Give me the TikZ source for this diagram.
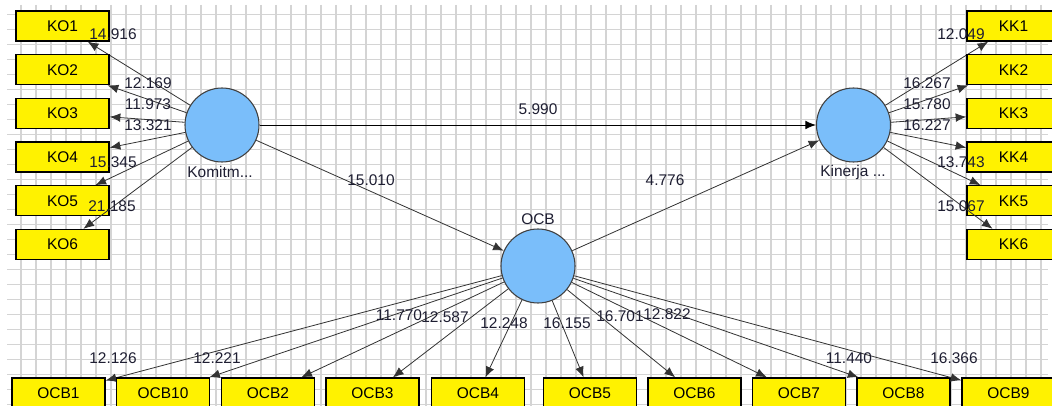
\documentclass[tikz,border=0pt]{standalone}
\usepackage{fontspec}
\setmainfont{Liberation Sans}
\usepackage{tikz}
\usetikzlibrary{arrows.meta}
\definecolor{lvblue}{RGB}{122,190,250}
\definecolor{gridgray}{RGB}{212,212,212}
\definecolor{tvtext}{RGB}{30,30,50}

\begin{document}
\begin{tikzpicture}[x=0.75pt,y=-0.75pt,
    >={Latex[length=8pt,width=6.5pt]},
    every node/.style={font=\fontsize{11.6pt}{13pt}\selectfont,text=tvtext},
    latent/.style={circle,draw=black!75,fill=lvblue,line width=0.8pt,minimum size=55.5pt,inner sep=0pt},
    indicator/.style={rectangle,draw=black,fill=yellow,line width=1pt,minimum width=69.75pt,minimum height=22.5pt,inner sep=0pt,text=black},
    link/.style={->,black!80,line width=0.6pt},
    tval/.style={inner sep=0pt},
    gridline/.style={gridgray,line width=1.3pt}]
    \clip (0,0) rectangle (1052,406);
    \fill[white] (0,0) rectangle (1052,406);

    % background grid
    \foreach \gx in {0,...,68}
        \draw[gridline] (20.7+15*\gx,5)--(20.7+15*\gx,406);
    \foreach \gy in {0,...,26}
        \draw[gridline] (7,14.5+15*\gy)--(1048,14.5+15*\gy);

    % latent variables
    \node[latent] (lvkom) at (222,125) {};
    \node[latent] (lvkin) at (853.5,125) {};
    \node[latent] (lvocb) at (538,266) {};
    \node (komlbl) at (220,172) {Komitm...};
    \node (kinlbl) at (853,173) {Kinerja ...};
    \node (ocblbl) at (538,219) {OCB};

    % indicators
    \foreach \i/\y in {1/26,2/69.7,3/113.4,4/157.1,5/200.8,6/244.5}{
        \node[indicator] (ko\i) at (62.5,\y) {KO\i};
        \node[indicator] (kk\i) at (1013.5,\y) {KK\i};
        \draw[link] (lvkom)--(ko\i);
        \draw[link] (lvkin)--(kk\i);
    }
    \foreach \n/\x in {1/58.5,10/163,2/268,3/372.5,4/478,5/590,6/694.5,7/799,8/903.5,9/1008.5}{
        \node[indicator] (ocb\n) at (\x,393) {OCB\n};
        \draw[link] (lvocb)--(ocb\n);
    }

    % inner model
    \draw[link,black,line width=0.7pt] (lvkom)--(lvkin);
    \draw[link] (lvkom)--(lvocb);
    \draw[link] (lvocb)--(lvkin);

    % t values
    \foreach \x/\y/\t [count=\k] in {113/34/14.916,148/83/12.169,148/104/11.973,148/125/13.321,113/162/15.345,112/206/21.185}
        \node[tval] (tko\k) at (\x,\y) {\t};
    \foreach \x/\y/\t [count=\k] in {961/34/12.049,927/83/16.267,927/104/15.780,927/125/16.227,961/162/13.743,961/206/15.067}
        \node[tval] (tkk\k) at (\x,\y) {\t};
    \foreach \x/\y/\t [count=\k] in {113/358/12.126,217/358/12.221,399/315/11.770,445/317/12.587,504/323/12.248,567/323/16.155,620/316/16.701,667/314/12.822,849/358/11.440,954/358/16.366}
        \node[tval] (tocb\k) at (\x,\y) {\t};
    \node[tval] (tkomkin) at (538,109) {5.990};
    \node[tval] (tkomocb) at (371,180) {15.010};
    \node[tval] (tocbkin) at (665,180) {4.776};
\end{tikzpicture}
\end{document}
